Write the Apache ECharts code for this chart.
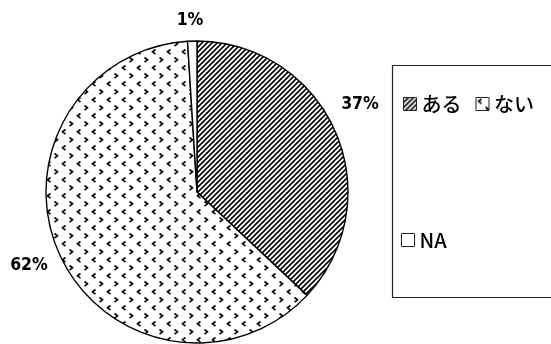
<!DOCTYPE html>
<html>
<head>
<meta charset="utf-8">
<script src="https://cdn.jsdelivr.net/npm/echarts@6/dist/echarts.min.js"></script>
<style>
html,body{margin:0;padding:0;background:#fff;}
#chart{width:551px;height:344px;}
</style>
</head>
<body>
<div id="chart"></div>
<script>
// Survey answers and their shares (%)
const categories = ['ある', 'ない', 'NA'];
const shares = [37, 62, 1];
const labelTexts = ['37%', '62%', '1%'];

// Diagonal hatch tile
function hatchTile() {
  const c = document.createElement('canvas');
  c.width = 5; c.height = 5;
  const g = c.getContext('2d');
  g.fillStyle = '#fff'; g.fillRect(0, 0, 5, 5);
  g.strokeStyle = '#000'; g.lineWidth = 1.6;
  g.beginPath();
  g.moveTo(-1, 6); g.lineTo(6, -1);
  g.moveTo(-1, 1); g.lineTo(1, -1);
  g.moveTo(4, 6); g.lineTo(6, 4);
  g.stroke();
  return c;
}

// Scattered "<" and ">" marks tile
function chevronTile() {
  const c = document.createElement('canvas');
  c.width = 15; c.height = 16;
  const g = c.getContext('2d');
  g.fillStyle = '#fff'; g.fillRect(0, 0, 15, 16);
  g.strokeStyle = '#000'; g.lineWidth = 1.6;
  g.lineJoin = 'miter';
  g.beginPath();
  // "<"
  g.moveTo(5.5, 1.5); g.lineTo(2.5, 3.8); g.lineTo(5.5, 6.1);
  // ">"
  g.moveTo(9.5, 9.5); g.lineTo(12.5, 11.8); g.lineTo(9.5, 14.1);
  g.stroke();
  return c;
}

const fills = [
  { image: hatchTile(), repeat: 'repeat' },
  { image: chevronTile(), repeat: 'repeat' },
  '#ffffff'
];

// Label anchor points for each slice
const labelPos = [[360, 104], [29, 265], [190, 20]];

const chart = echarts.init(document.getElementById('chart'), null, { renderer: 'canvas' });

const legendText = {
  fontFamily: 'Noto Sans CJK JP',
  fontSize: 20,
  fontWeight: 500,
  color: '#000'
};

chart.setOption({
  animation: false,
  backgroundColor: '#fff',
  legend: [
    {
      data: ['ある', 'ない'],
      left: 403,
      top: 94,
      orient: 'horizontal',
      itemWidth: 13,
      itemHeight: 13,
      itemGap: 14,
      padding: 0,
      textStyle: legendText,
      icon: 'rect',
      itemStyle: { borderColor: '#222', borderWidth: 1 }
    },
    {
      data: ['NA'],
      left: 401,
      top: 230,
      itemWidth: 13,
      itemHeight: 13,
      padding: 0,
      textStyle: legendText,
      icon: 'rect',
      itemStyle: { borderColor: '#222', borderWidth: 1 }
    }
  ],
  graphic: [
    {
      type: 'rect',
      shape: { x: 392.5, y: 65.5, width: 200, height: 232 },
      style: { fill: 'none', stroke: '#222', lineWidth: 1.2 },
      silent: true
    }
  ],
  series: [
    {
      type: 'pie',
      center: [197, 192],
      radius: 151,
      startAngle: 90,
      clockwise: true,
      avoidLabelOverlap: false,
      data: categories.map((name, i) => ({
        name: name,
        value: shares[i],
        itemStyle: { color: fills[i] }
      })),
      itemStyle: { borderColor: '#000', borderWidth: 1.4 },
      label: {
        show: true,
        formatter: p => labelTexts[p.dataIndex],
        fontFamily: 'DejaVu Sans Condensed',
        fontWeight: 'bold',
        fontSize: 17.5,
        color: '#000'
      },
      labelLine: { show: false },
      labelLayout: function (params) {
        const p = labelPos[params.dataIndex];
        return { x: p[0], y: p[1], align: 'center', verticalAlign: 'middle' };
      },
      emphasis: { disabled: true }
    }
  ]
});
</script>
</body>
</html>
